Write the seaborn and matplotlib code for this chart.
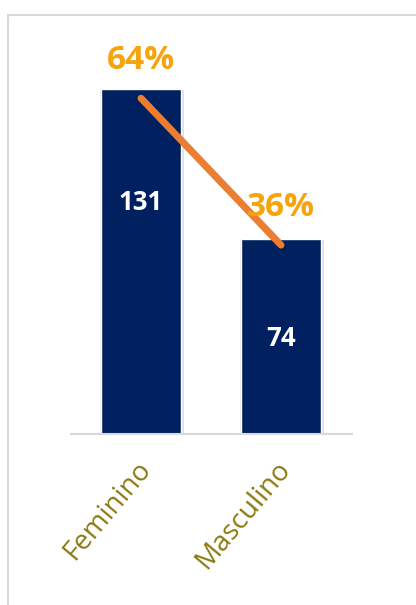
import matplotlib
matplotlib.use("Agg")
import matplotlib.pyplot as plt
import matplotlib.patheffects as pe
import matplotlib.transforms as mtransforms
from matplotlib.lines import Line2D
import seaborn as sns
import pandas as pd

categories = ["Feminino", "Masculino"]
counts = [131, 74]
percents = [0.64, 0.36]
percent_labels = ["64%", "36%"]
count_labels = ["131", "74"]

sns.set_theme(style="white")
plt.rcParams['font.family'] = ['Open Sans', 'DejaVu Sans']

W, H = 416, 605
fig = plt.figure(figsize=(W / 100, H / 100), dpi=100)
# axes: x from 71 to 352 px, y from 30 to 434 px (top-origin)
ax = fig.add_axes([71 / W, 1 - 434 / H, (352 - 71) / W, (434 - 30) / H])

df = pd.DataFrame({"cat": categories, "count": counts, "pct": percents})
sns.barplot(data=df, x="cat", y="count", color="#002060", width=0.571, ax=ax,
            saturation=1)
for p in ax.patches:
    p.set_path_effects([pe.SimplePatchShadow(offset=(2, -1), shadow_rgbFace="#000000", alpha=0.12),
                        pe.SimplePatchShadow(offset=(-1, 0), shadow_rgbFace="#000000", alpha=0.08),
                        pe.Normal()])

ax.set_xlim(-0.5, 1.507)
ax.set_ylim(0, 153.4)
ax.set_xlabel("")
ax.set_ylabel("")
ax.set_yticks([])
for s in ["top", "right", "left"]:
    ax.spines[s].set_visible(False)
ax.spines["bottom"].set_color("#d9d9d9")
ax.spines["bottom"].set_linewidth(1.5)
ax.tick_params(axis="x", length=0, pad=22)
ax.set_xticks(range(len(categories)))
ax.set_xticklabels(categories, rotation=50, ha="right", rotation_mode="anchor",
                   color="#8B7A12", fontsize=20, va="center")
shift = mtransforms.ScaledTranslation(5 / 100, 0, fig.dpi_scale_trans)
for t in ax.get_xticklabels():
    t.set_transform(t.get_transform() + shift)

# count labels inside bars
count_y = [88, 36.4]
for i, (lab, yy) in enumerate(zip(count_labels, count_y)):
    ax.text(i, yy, lab, ha="center", va="center", color="white",
            fontsize=18.5, fontweight="bold")

ax.patch.set_alpha(0)

ax2 = ax.twinx()
ax2.set_ylim(0, 0.77)
sns.lineplot(x=[0, 1], y=percents, ax=ax2, color="#ED7D31", linewidth=5,
             solid_capstyle="round")
for l in ax2.lines:
    l.set_path_effects([pe.SimpleLineShadow(offset=(1.5, -1.5), alpha=0.3), pe.Normal()])
ax2.set_yticks([])
ax2.set_xlim(-0.5, 1.507)
for s in ax2.spines.values():
    s.set_visible(False)
for i, (v, lab) in enumerate(zip(percents, percent_labels)):
    ax2.annotate(lab, (i, v), xytext=(0, 27), textcoords="offset points",
                 ha="center", va="center", color="#F5A40C", fontsize=24,
                 fontweight="bold")

# chart frame
fig.add_artist(Line2D([8 / W, 8 / W], [0, 1 - 15 / H], color="#d9d9d9", lw=1.5))
fig.add_artist(Line2D([8 / W, 1], [1 - 15 / H, 1 - 15 / H], color="#d9d9d9", lw=1.5))

fig.savefig("out.png", dpi=100)
